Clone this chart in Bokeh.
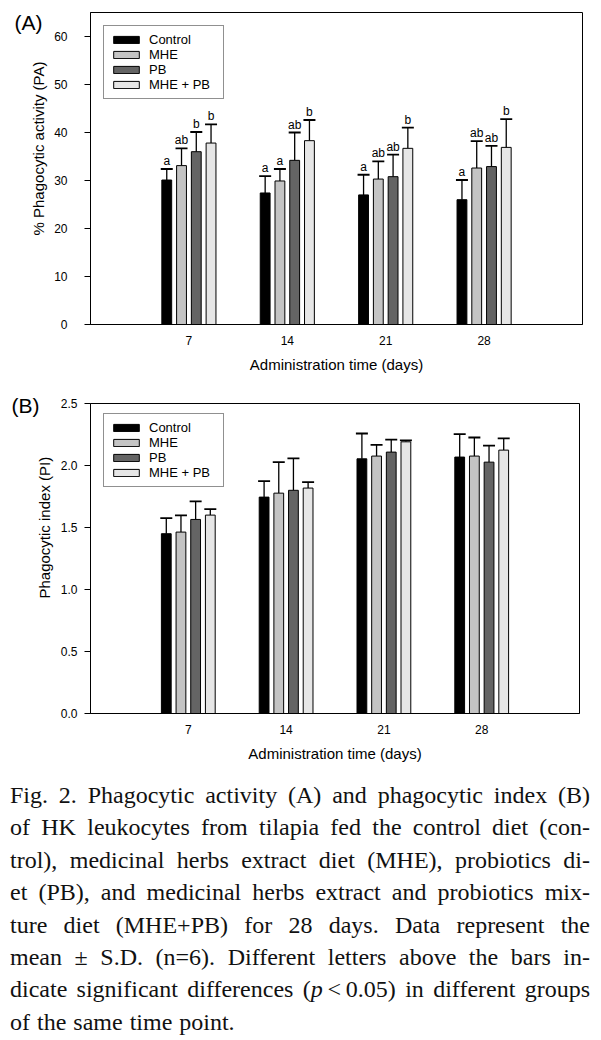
from bokeh.plotting import figure
from bokeh.models import (ColumnDataSource, Range1d, FixedTicker, Whisker, Title,
                          TeeHead, Legend, LegendItem, Div, NumeralTickFormatter)
from bokeh.transform import dodge
from bokeh.layouts import column
from bokeh.embed import file_html
from bokeh.resources import INLINE
from bokeh.core.properties import value

# ---------------- data ----------------
days = ["7", "14", "21", "28"]
groups = ["Control", "MHE", "PB", "MHE + PB"]

# (A) Phagocytic activity (%)
pa_control = [30.1, 27.4, 27.0, 26.0]
pa_control_sd = [2.3, 3.5, 4.2, 4.1]
pa_mhe = [33.1, 29.9, 30.3, 32.6]
pa_mhe_sd = [3.6, 2.5, 3.7, 5.6]
pa_pb = [36.0, 34.2, 30.8, 32.9]
pa_pb_sd = [4.1, 5.8, 4.6, 4.3]
pa_mix = [37.8, 38.3, 36.7, 36.9]
pa_mix_sd = [3.9, 4.3, 4.3, 5.9]
pa_letters_control = ["a", "a", "a", "a"]
pa_letters_mhe = ["ab", "a", "ab", "ab"]
pa_letters_pb = ["b", "ab", "ab", "ab"]
pa_letters_mix = ["b", "b", "b", "b"]

# (B) Phagocytic index
pi_control = [1.45, 1.745, 2.054, 2.068]
pi_control_sd = [0.126, 0.129, 0.204, 0.185]
pi_mhe = [1.463, 1.777, 2.076, 2.076]
pi_mhe_sd = [0.134, 0.25, 0.091, 0.15]
pi_pb = [1.565, 1.80, 2.108, 2.027]
pi_pb_sd = [0.145, 0.257, 0.10, 0.134]
pi_mix = [1.60, 1.818, 2.191, 2.124]
pi_mix_sd = [0.048, 0.048, 0.012, 0.094]

pa_yticks = [0, 10, 20, 30, 40, 50, 60]
pi_yticks = [0.0, 0.5, 1.0, 1.5, 2.0, 2.5]

caption_lines = [
    "Fig. 2. Phagocytic activity (A) and phagocytic index (B)",
    "of HK leukocytes from tilapia fed the control diet (con-",
    "trol), medicinal herbs extract diet (MHE), probiotics di-",
    "et (PB), and medicinal herbs extract and probiotics mix-",
    "ture diet (MHE+PB) for 28 days. Data represent the",
    "mean &plusmn; S.D. (n=6). Different letters above the bars in-",
    "dicate significant differences (<i>p</i>&thinsp;&lt;&thinsp;0.05) in different groups",
    "of the same time point.",
]

# ---------------- style ----------------
colors = ["#000000", "#c4c4c4", "#646464", "#e6e6e6"]
offsets = [-0.225, -0.075, 0.075, 0.225]
BAR_W = 0.1
SANS = "Liberation Sans"
positions = list(range(1, len(days) + 1))   # category slots on the x scale


def make_panel(means, sds, letters, y_end, yticks, frame_w, frame_h,
               border_left, border_top, border_bottom, legend_loc, y_standoff,
               ylabel, ylabel_offset, tag, tag_dy, tag_dx, fmt=None):
    p = figure(x_range=Range1d(0, len(days) + 1),
               y_range=Range1d(0, y_end),
               frame_width=frame_w, frame_height=frame_h,
               min_border_left=border_left, min_border_right=14,
               min_border_top=border_top, min_border_bottom=border_bottom,
               output_backend="svg", toolbar_location=None,
               background_fill_color="white", border_fill_color="white")
    p.xgrid.grid_line_color = None
    p.ygrid.grid_line_color = None
    p.outline_line_color = "black"
    p.outline_line_width = 1

    items = []
    for i, g in enumerate(groups):
        src = ColumnDataSource(dict(
            pos=positions, mean=means[i],
            upper=[m + s for m, s in zip(means[i], sds[i])],
            letter=letters[i] if letters is not None else [""] * len(days)))
        r = p.vbar(x=dodge("pos", offsets[i]), top="mean",
                   width=BAR_W, bottom=0, source=src,
                   fill_color=colors[i], line_color="black", line_width=1)
        items.append(LegendItem(label=g, renderers=[r]))
        w = Whisker(source=src, base=dodge("pos", offsets[i]),
                    lower="mean", upper="upper", line_color="black",
                    line_width=1.3, lower_head=None,
                    upper_head=TeeHead(size=12, line_color="black", line_width=1.8))
        p.add_layout(w)
        if letters is not None:
            p.text(x=dodge("pos", offsets[i]), y="upper",
                   text="letter", source=src, text_align="center",
                   text_baseline="bottom", y_offset=-1,
                   text_font=value(SANS), text_font_size="12px",
                   text_color="black")

    legend = Legend(items=items, location=legend_loc,
                    label_text_font=SANS, label_text_font_size="13px",
                    label_text_color="black",
                    glyph_width=32, glyph_height=9, label_height=14,
                    label_width=68, label_standoff=7, spacing=0, padding=6,
                    margin=0, border_line_color="#222222", border_line_width=1.6,
                    background_fill_color="white", background_fill_alpha=1.0)
    p.add_layout(legend)

    xa = p.xaxis[0]
    xa.ticker = FixedTicker(ticks=positions)
    xa.major_label_overrides = {k: d for k, d in zip(positions, days)}
    xa.axis_line_color = "black"
    xa.major_tick_line_color = None
    xa.minor_tick_line_color = None
    xa.major_label_text_font = SANS
    xa.major_label_text_font_size = "12px"
    xa.major_label_text_color = "black"
    xa.major_label_standoff = 5
    xa.axis_label = "Administration time (days)"
    xa.axis_label_text_font = SANS
    xa.axis_label_text_font_size = "15px"
    xa.axis_label_text_font_style = "normal"
    xa.axis_label_text_color = "black"
    xa.axis_label_standoff = 8

    ya = p.yaxis[0]
    ya.ticker = FixedTicker(ticks=yticks)
    ya.axis_line_color = "black"
    ya.major_tick_line_color = "black"
    ya.major_tick_out = 6
    ya.major_tick_in = 0
    ya.minor_tick_line_color = None
    ya.major_label_text_font = SANS
    ya.major_label_text_font_size = "12px"
    ya.major_label_text_color = "black"
    ya.major_label_standoff = y_standoff
    if fmt:
        ya.formatter = NumeralTickFormatter(format=fmt)

    # y-axis title as a side title (lets it sit off-centre like the original)
    p.add_layout(Title(text=ylabel, align="left", offset=ylabel_offset,
                       text_font=SANS, text_font_size="15px",
                       text_font_style="normal", text_color="black",
                       standoff=10), "left")
    # panel tag "(A)" / "(B)" drawn as overlay text left of the frame
    p.text(x=[0], y=[y_end], text=[tag], x_offset=tag_dx, y_offset=tag_dy,
           text_align="left", text_baseline="alphabetic", text_font=value(SANS),
           text_font_size="21px", text_color="black", level="overlay")
    return p


pA = make_panel(
    [pa_control, pa_mhe, pa_pb, pa_mix],
    [pa_control_sd, pa_mhe_sd, pa_pb_sd, pa_mix_sd],
    [pa_letters_control, pa_letters_mhe, pa_letters_pb, pa_letters_mix],
    65, pa_yticks, frame_w=492, frame_h=312, border_left=87, border_top=12,
    border_bottom=56, legend_loc=(13, 225), y_standoff=17,
    ylabel="% Phagocytic activity (PA)", ylabel_offset=89,
    tag="(A)", tag_dy=10, tag_dx=-76)

pB = make_panel(
    [pi_control, pi_mhe, pi_pb, pi_mix],
    [pi_control_sd, pi_mhe_sd, pi_pb_sd, pi_mix_sd],
    None,
    2.5, pi_yticks, frame_w=489, frame_h=310, border_left=90, border_top=23,
    border_bottom=66, legend_loc=(13, 226), y_standoff=7, fmt="0.0",
    ylabel="Phagocytic index (PI)", ylabel_offset=115,
    tag="(B)", tag_dy=2, tag_dx=-79)

line_divs = []
for k, ln in enumerate(caption_lines):
    if k < len(caption_lines) - 1:
        st = "text-align:justify;text-align-last:justify;"
    else:
        st = "text-align:left;word-spacing:1px;"
    line_divs.append('<div style="%s">%s</div>' % (st, ln))
caption_html = ('<div style="font-family:\'Liberation Serif\',\'Times New Roman\',serif;'
                'font-size:24px;line-height:32.4px;color:#111;width:580px;">'
                + "".join(line_divs) + "</div>")
caption = Div(text=caption_html, width=580, height=260, margin=(0, 0, 0, 10))

layout = column(pA, pB, caption, spacing=0)
open("out.html", "w").write(file_html(layout, INLINE))
